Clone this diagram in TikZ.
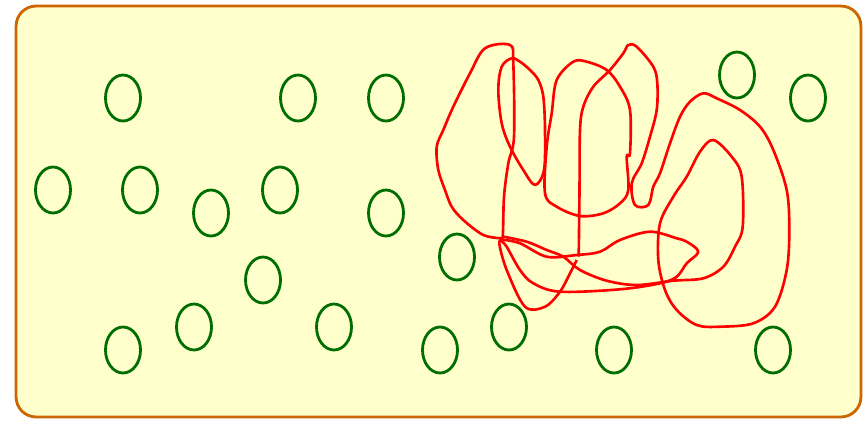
\documentclass[tikz,border=0pt]{standalone}
\usetikzlibrary{shapes.geometric}
\definecolor{panelFill}{HTML}{FFFFCC}
\definecolor{panelEdge}{HTML}{CC6600}
\definecolor{elemGreen}{HTML}{006E00}
\definecolor{traceRed}{HTML}{FF0000}

\begin{document}
\begin{tikzpicture}[
        x=0.02cm,
        y=-0.02cm,
        panel/.style={rectangle, draw=panelEdge, fill=panelFill, line width=1.6pt,
                      rounded corners=0.4cm, minimum width=16.9cm, minimum height=8.22cm},
        elem/.style={ellipse, draw=elemGreen, line width=1.6pt, inner sep=0pt,
                     minimum width=0.7cm, minimum height=0.92cm},
        trace/.style={draw=traceRed, line width=1.5pt, line join=round}
    ]
    \useasboundingbox (0,0) rectangle (868,420);

    % Panel
    \node[panel] (box) at (438.5, 211.5) {};

    % Elements of the set
    \node[elem] (c1)  at (123,  98) {};
    \node[elem] (c2)  at (298,  98) {};
    \node[elem] (c3)  at (386,  98) {};
    \node[elem] (c4)  at ( 53, 190) {};
    \node[elem] (c5)  at (140, 190) {};
    \node[elem] (c6)  at (211, 213) {};
    \node[elem] (c7)  at (280, 190) {};
    \node[elem] (c8)  at (386, 213) {};
    \node[elem] (c9)  at (263, 280) {};
    \node[elem] (c10) at (194, 327) {};
    \node[elem] (c11) at (123, 350) {};
    \node[elem] (c12) at (334, 327) {};
    \node[elem] (c13) at (440, 350) {};
    \node[elem] (c14) at (457, 257) {};
    \node[elem] (c15) at (509, 327) {};
    \node[elem] (c16) at (614, 350) {};
    \node[elem] (c17) at (737,  75) {};
    \node[elem] (c18) at (808,  98) {};
    \node[elem] (c19) at (773, 350) {};

    % Scribble: big left lobe and lower hook
    \draw[trace] plot[smooth, tension=0.55] coordinates {
        (501.7,238.3) (483.3,235) (463.3,220) (451.7,206.7) (445,190) (438.3,170)
        (436.7,146.7) (443.3,130) (453.3,106.7) (470,73.3) (485,48.3) (510,45)
        (513.3,63.3) (514,136.7) (508.3,163.3) (504,196.7) (502.7,236.7) (499.3,243.3)
        (506.7,270) (525,306.7) (545,306.7) (560,291.7) (570,273.3) (576.7,260)};

    % Scribble: vertical stroke, right lobes and return sweep
    \draw[trace] plot[smooth, tension=0.55] coordinates {
        (578.7,256.7) (579.5,190) (580,130) (583.3,106.7) (593.3,86.7) (610,70)
        (623.3,53.3) (628.3,45) (636.7,46.7) (653.3,66.7) (657.3,83.3) (656.7,110)
        (650,136.7) (641.7,163.3) (631.7,183.3) (635,205) (648.3,205) (653.3,186.7)
        (660,173.3) (670,143.3) (680,116.7) (690,101.7) (703.3,93.3) (716.7,98.3)
        (740,110) (760,126.7) (773.3,150) (786.7,190) (789.3,230) (786.7,270)
        (775,306.7) (753.3,323.3) (720,326.7) (696.7,325) (676.7,310) (665,290)
        (658.3,260) (660,223.3) (673.3,196.7) (686.7,176.7) (700,151.7) (713.3,140)
        (731.7,156.7) (741.7,176.7) (742.7,226.7) (735,246.7) (723.3,266.7)
        (703.3,278.3) (673.3,280.7) (636.7,285) (606.7,280.7) (580,270) (563.3,256.7)
        (546.7,250) (526.7,241.7) (503.3,236.7)};

    % Scribble: narrow lobe
    \draw[trace] plot[smooth cycle, tension=0.55] coordinates {
        (498.3,90) (501.7,66.7) (511.7,58.3) (520,61.7) (530,70) (538.3,80)
        (543.3,96.7) (545,130) (544,170) (535,185) (523.3,170) (510,146.7) (501.7,123.3)};

    % Scribble: middle U
    \draw[trace] plot[smooth cycle, tension=0.55] coordinates {
        (545,193.3) (556.7,206.7) (580,216) (603.3,213.3) (620,203.3) (628.3,190)
        (626.7,156.7) (630,153.3) (630,110) (620,86.7) (606.7,70) (586.7,61.7)
        (573.3,61.7) (556.7,80) (551.7,113.3) (546.7,146.7)};

    % Scribble: flat loop
    \draw[trace] plot[smooth cycle, tension=0.55] coordinates {
        (501.7,240) (520,243.3) (546.7,256.7) (576.7,255) (600,251.7) (620,240)
        (650,231.7) (676.7,238.3) (686.7,241.7) (698.3,251.7) (686.7,263.3)
        (676.7,276.7) (660,283.3) (620,289.3) (560,291.7) (533.3,283.3) (520,270)
        (506.7,246.7)};

\end{tikzpicture}
\end{document}
